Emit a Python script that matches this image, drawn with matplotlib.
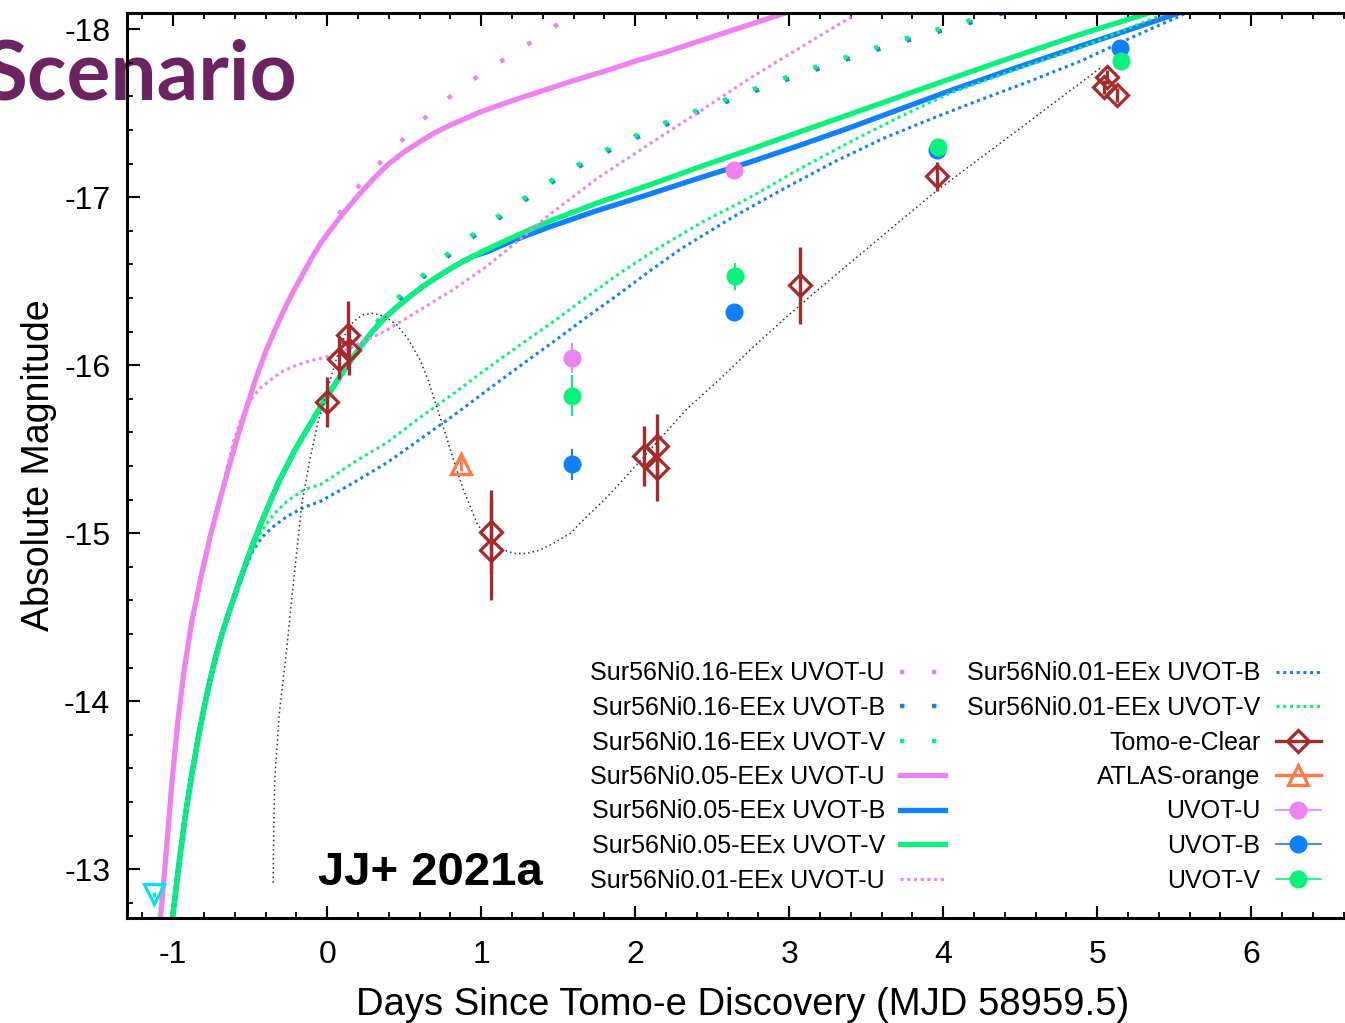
import numpy as np
import matplotlib.pyplot as plt
from matplotlib.lines import Line2D
from matplotlib.ticker import MultipleLocator

plt.rcParams['font.family'] = ['Liberation Sans', 'DejaVu Sans']
plt.rcParams['axes.unicode_minus'] = False

# colours (gnuplot-like)
c_u = '#ee82ee'
c_b = '#1080ff'
c_v = '#08f27c'
c_tomo = '#a52a2a'
c_atlas = '#ff7a45'
c_lim = '#00e5ee'

# ---- model light curves ----
# Sur56Ni0.05-EEx
m05u_x = [-1.084, -1.05, -1.01, -0.97, -0.93, -0.88, -0.82, -0.76, -0.70, -0.64, -0.58, -0.52, -0.46, -0.40,
          -0.34, -0.28, -0.22, -0.16, -0.10, -0.04, 0.0, 0.1, 0.2, 0.3, 0.4, 0.5, 0.6, 0.7, 0.8, 0.9, 1.0,
          1.2, 1.4, 1.6, 1.8, 2.0, 2.2, 2.4, 2.6, 2.8, 3.0]
m05u_y = [-12.70, -13.05, -13.50, -13.88, -14.18, -14.47, -14.74, -14.98, -15.19, -15.39, -15.58, -15.76, -15.93,
          -16.08, -16.21, -16.33, -16.44, -16.54, -16.64, -16.73, -16.78, -16.90, -17.01, -17.11, -17.20, -17.27,
          -17.33, -17.385, -17.43, -17.47, -17.51, -17.575, -17.635, -17.695, -17.75, -17.81, -17.865, -17.925,
          -17.985, -18.045, -18.105]

m05v_x = [-1.006, -0.96, -0.92, -0.88, -0.84, -0.80, -0.76, -0.72, -0.68, -0.64, -0.586, -0.53, -0.481, -0.42,
          -0.370, -0.31, -0.262, -0.21, -0.156, -0.10, -0.045, 0.01, 0.063, 0.12, 0.169, 0.225, 0.279, 0.335,
          0.388, 0.45, 0.55, 0.63, 0.712, 0.80, 0.875, 0.95, 1.037, 1.2, 1.448, 1.75, 2.097, 2.4, 2.747, 3.07,
          3.396, 3.72, 4.045, 4.47, 4.89, 5.38]
m05v_y = [-12.70, -13.05, -13.33, -13.56, -13.77, -13.96, -14.13, -14.28, -14.41, -14.525, -14.67, -14.815,
          -14.94, -15.08, -15.19, -15.315, -15.40, -15.495, -15.58, -15.665, -15.75, -15.83, -15.905, -15.985,
          -16.05, -16.12, -16.185, -16.245, -16.295, -16.345, -16.42, -16.475, -16.525, -16.575, -16.615, -16.65,
          -16.69, -16.76, -16.86, -16.965, -17.075, -17.175, -17.285, -17.39, -17.495, -17.60, -17.705, -17.84,
          -17.97, -18.11]

m05b_x = m05v_x[:36] + [1.037, 1.2, 1.448, 1.75, 2.097, 2.4, 2.747, 3.07, 3.396, 3.72, 4.045, 4.47, 4.89,
                        5.2, 5.539]
m05b_y = m05v_y[:36] + [-16.675, -16.74, -16.825, -16.92, -17.02, -17.11, -17.21, -17.31, -17.415,
                        -17.525, -17.635, -17.77, -17.90, -17.995, -18.10]

# Sur56Ni0.16-EEx
m16u_x = m05u_x[:21] + [0.06, 0.128, 0.266, 0.409, 0.552, 0.701, 0.87, 1.039, 1.201, 1.370, 1.545, 1.643]
m16u_y = m05u_y[:21] + [-16.87, -16.985, -17.13, -17.27, -17.40, -17.53, -17.65, -17.76, -17.85, -17.95,
                        -18.06, -18.11]

m16v_x = m05v_x[:25] + [0.279, 0.388, 0.55, 0.70, 0.85, 1.03, 1.19, 1.36, 1.53, 1.71, 1.89, 2.08, 2.26,
                        2.45, 2.64, 2.83, 3.03, 3.22, 3.42, 3.61, 3.81, 4.06, 4.26, 4.40]
m16v_y = m05v_y[:25] + [-16.20, -16.34, -16.48, -16.60, -16.715, -16.835, -16.94, -17.045, -17.145, -17.235,
                        -17.32, -17.40, -17.47, -17.535, -17.60, -17.665, -17.73, -17.79, -17.85, -17.905,
                        -17.96, -18.025, -18.075, -18.11]
m16b_y = m05v_y[:25] + [-16.19, -16.325, -16.465, -16.585, -16.70, -16.82, -16.925, -17.03, -17.13, -17.22,
                        -17.305, -17.385, -17.455, -17.52, -17.585, -17.65, -17.715, -17.775, -17.835,
                        -17.89, -17.945, -18.01, -18.06, -18.10]

# Sur56Ni0.01-EEx
m01u_x = m05u_x[:9] + [-0.655, -0.61, -0.56, -0.50, -0.44, -0.37, -0.30, -0.20, -0.10, 0.0, 0.169, 0.388,
                       0.604, 0.818, 1.037, 1.253, 1.448, 1.75, 2.097, 2.4, 2.747, 3.07, 3.396, 3.45]
m01u_y = m05u_y[:9] + [-15.37, -15.54, -15.68, -15.79, -15.86, -15.91, -15.96, -16.00, -16.03, -16.05,
                       -16.11, -16.21, -16.33, -16.45, -16.59, -16.75, -16.90, -17.11, -17.32, -17.50, -17.71,
                       -17.89, -18.07, -18.11]

m01v_x = m05v_x[:11] + [-0.53, -0.48, -0.42, -0.35, -0.262, -0.15, -0.045, 0.05, 0.169, 0.388, 0.604,
                        0.818, 1.037, 1.25, 1.469, 1.69, 1.903, 2.119, 2.43, 2.747, 3.07, 3.396, 3.72,
                        4.045, 4.47, 4.89, 5.43, 5.47]
m01v_y = m05v_y[:11] + [-14.81, -14.92, -15.02, -15.11, -15.19, -15.26, -15.29, -15.345, -15.42, -15.54,
                        -15.69, -15.83, -15.98, -16.12, -16.26, -16.41, -16.55, -16.68, -16.85, -17.00,
                        -17.17, -17.33, -17.48, -17.62, -17.76, -17.89, -18.09, -18.11]

m01b_x = m05v_x[:11] + [-0.53, -0.48, -0.42, -0.35, -0.262, -0.15, -0.045, 0.169, 0.388, 0.604, 0.818,
                        1.037, 1.25, 1.469, 1.69, 1.903, 2.10, 2.292, 2.63, 2.963, 3.29, 3.61, 3.93, 4.24,
                        4.56, 4.89, 5.22, 5.539, 5.60]
m01b_y = m05v_y[:11] + [-14.80, -14.90, -14.98, -15.04, -15.10, -15.155, -15.19, -15.30, -15.42, -15.56,
                        -15.70, -15.85, -15.995, -16.14, -16.29, -16.43, -16.565, -16.69, -16.88, -17.05,
                        -17.21, -17.35, -17.47, -17.58, -17.69, -17.81, -17.95, -18.08, -18.11]

# fit through the Tomo-e points
fit_x = [-0.351, -0.347, -0.341, -0.312, -0.262, -0.219, -0.164, -0.110, -0.060, -0.002, 0.063, 0.115, 0.169,
         0.230, 0.299, 0.375, 0.453, 0.530, 0.604, 0.660, 0.712, 0.765, 0.820, 0.880, 0.929, 0.972, 1.037,
         1.145, 1.220, 1.297, 1.380, 1.469, 1.578, 1.686, 1.800, 1.903, 2.119, 2.336, 2.552, 2.768, 2.985,
         3.201, 3.721, 3.959, 4.455, 5.020]
fit_y = [-12.92, -13.24, -13.53, -13.92, -14.32, -14.71, -15.18, -15.45, -15.66, -15.84, -16.05, -16.18, -16.26,
         -16.30, -16.31, -16.29, -16.24, -16.15, -16.03, -15.90, -15.75, -15.60, -15.44, -15.27, -15.16, -15.06,
         -14.97, -14.90, -14.88, -14.88, -14.90, -14.94, -15.00, -15.10, -15.20, -15.30, -15.52, -15.74, -15.92,
         -16.11, -16.29, -16.46, -16.86, -17.04, -17.38, -17.77]

# ---- observations ----
tomo_x = [0.00, 0.078, 0.138, 0.14, 1.065, 1.065, 2.054, 2.141, 2.141, 3.071, 3.959, 5.063, 5.041, 5.128]
tomo_y = [-15.78, -16.04, -16.18, -16.09, -15.01, -14.90, -15.46, -15.52, -15.39, -16.475, -17.124, -17.715,
          -17.656, -17.61]
tomo_err = [0.15, 0.12, 0.20, 0.15, 0.25, 0.30, 0.18, 0.19, 0.20, 0.23, 0.085, 0.04, 0.04, 0.04]

atlas_x = [0.870]
atlas_y = [-15.41]
atlas_err = [0.04]

lim_x = [-1.123]
lim_y = [-12.85]

uvu_x = [1.591, 2.643]
uvu_y = [-16.045, -17.164]
uvu_err = [0.09, 0.03]
uvb_x = [1.591, 2.643, 3.961, 5.149]
uvb_y = [-15.41, -16.32, -17.28, -17.89]
uvb_err = [0.09, 0.04, 0.03, 0.03]
uvv_x = [1.591, 2.649, 3.968, 5.154]
uvv_y = [-15.82, -16.53, -17.30, -17.81]
uvv_err = [0.12, 0.08, 0.03, 0.03]

fig = plt.figure(figsize=(13.45, 10.23), dpi=100)
fig.text(297 / 1345, 1 - 100 / 1023, 'Scenario', ha='right', va='baseline', fontsize=59,
         family=['Lato', 'DejaVu Sans'], fontweight='bold', color='#6b2461', zorder=-1)

ax = fig.add_axes([127 / 1345, 105 / 1023, 1232 / 1345, 905.5 / 1023])
ax.set_facecolor('none')

sparse = (0, (1, 6.2))
dense = (0, (1, 1.2))
ax.plot(m16u_x, m16u_y, color=c_u, lw=3.2, ls=sparse)
ax.plot(m16v_x, m16b_y, color=c_b, lw=3.2, ls=sparse)
ax.plot(m16v_x, m16v_y, color=c_v, lw=3.2, ls=sparse)
ax.plot(m05u_x, m05u_y, color=c_u, lw=3.8, solid_capstyle='butt')
ax.plot(m05b_x, m05b_y, color=c_b, lw=3.8, solid_capstyle='butt')
ax.plot(m05v_x, m05v_y, color=c_v, lw=3.8, solid_capstyle='butt')
ax.plot(m01u_x, m01u_y, color=c_u, lw=2.2, ls=dense)
ax.plot(m01b_x, m01b_y, color=c_b, lw=2.2, ls=dense)
ax.plot(m01v_x, m01v_y, color=c_v, lw=2.2, ls=dense)
ax.plot(fit_x, fit_y, color='#333333', lw=1.1, ls=(0, (1, 2)))

ax.errorbar(tomo_x, tomo_y, yerr=tomo_err, fmt='D', ms=11.5, mfc='none', mec=c_tomo, mew=2.3,
            ecolor=c_tomo, elinewidth=2.4, capsize=0, zorder=5)
ax.errorbar(atlas_x, atlas_y, yerr=atlas_err, fmt='^', ms=15, mfc='none', mec=c_atlas, mew=2.3,
            ecolor=c_atlas, elinewidth=2, capsize=0, zorder=5)
ax.errorbar(lim_x, lim_y, yerr=[0.015], fmt='v', ms=15, mfc='none', mec=c_lim, mew=2.3,
            ecolor=c_lim, elinewidth=2, capsize=0, zorder=5)
for xs, ys, es, col in [(uvu_x, uvu_y, uvu_err, c_u), (uvb_x, uvb_y, uvb_err, c_b), (uvv_x, uvv_y, uvv_err, c_v)]:
    ax.errorbar(xs, ys, yerr=es, fmt='o', ms=13, color=col, mec='none', ecolor=col,
                elinewidth=1.5, capsize=0, zorder=6)

ax.set_xlim(-1.3, 6.7)
ax.set_ylim(-12.71, -18.10)
ax.xaxis.set_major_locator(MultipleLocator(1))
ax.xaxis.set_minor_locator(MultipleLocator(0.2))
ax.yaxis.set_major_locator(MultipleLocator(1))
ax.yaxis.set_minor_locator(MultipleLocator(0.2))
ax.tick_params(which='both', direction='in', top=True, right=True, labelsize=23, pad=12)
ax.tick_params(axis='x', which='both', pad=16)
ax.tick_params(which='major', length=9, width=1.5)
ax.tick_params(which='minor', length=4.5, width=1.3)
for s in ax.spines.values():
    s.set_linewidth(2.2)

ax.set_xlabel('Days Since Tomo-e Discovery (MJD 58959.5)', fontsize=27.5, labelpad=12)
ax.set_ylabel('Absolute Magnitude', fontsize=27, labelpad=5)

fig.text(318 / 1345, 1 - 885 / 1023, 'JJ+ 2021a', ha='left', va='baseline', fontsize=34, fontweight='bold')

labels = ['Sur56Ni0.16-EEx UVOT-U', 'Sur56Ni0.16-EEx UVOT-B', 'Sur56Ni0.16-EEx UVOT-V',
          'Sur56Ni0.05-EEx UVOT-U', 'Sur56Ni0.05-EEx UVOT-B', 'Sur56Ni0.05-EEx UVOT-V',
          'Sur56Ni0.01-EEx UVOT-U', 'Sur56Ni0.01-EEx UVOT-B', 'Sur56Ni0.01-EEx UVOT-V',
          'Tomo-e-Clear', 'ATLAS-orange', 'UVOT-U', 'UVOT-B', 'UVOT-V']
handles = [Line2D([], [], color=c_u, lw=3.2, ls=sparse),
           Line2D([], [], color=c_b, lw=3.2, ls=sparse),
           Line2D([], [], color=c_v, lw=3.2, ls=sparse),
           Line2D([], [], color=c_u, lw=3.8),
           Line2D([], [], color=c_b, lw=3.8),
           Line2D([], [], color=c_v, lw=3.8),
           Line2D([], [], color=c_u, lw=2.2, ls=dense),
           Line2D([], [], color=c_b, lw=2.2, ls=dense),
           Line2D([], [], color=c_v, lw=2.2, ls=dense),
           Line2D([], [], color=c_tomo, lw=2.4, marker='D', ms=11.5, mfc='none', mew=2.3),
           Line2D([], [], color=c_atlas, lw=2.4, marker='^', ms=15, mfc='none', mew=2.3),
           Line2D([], [], color=c_u, lw=1.2, marker='o', ms=13, mec='none'),
           Line2D([], [], color=c_b, lw=1.2, marker='o', ms=13, mec='none'),
           Line2D([], [], color=c_v, lw=1.2, marker='o', ms=13, mec='none')]
ax.legend(handles, labels, ncol=2, markerfirst=False, frameon=False, fontsize=18, handlelength=1.8,
          handletextpad=0.6, columnspacing=0.9, labelspacing=0.42, borderpad=0, numpoints=1,
          loc='lower right', bbox_to_anchor=(1333 / 1345, 1 - 905 / 1023), bbox_transform=fig.transFigure)

fig.savefig('out.png', dpi=100)
